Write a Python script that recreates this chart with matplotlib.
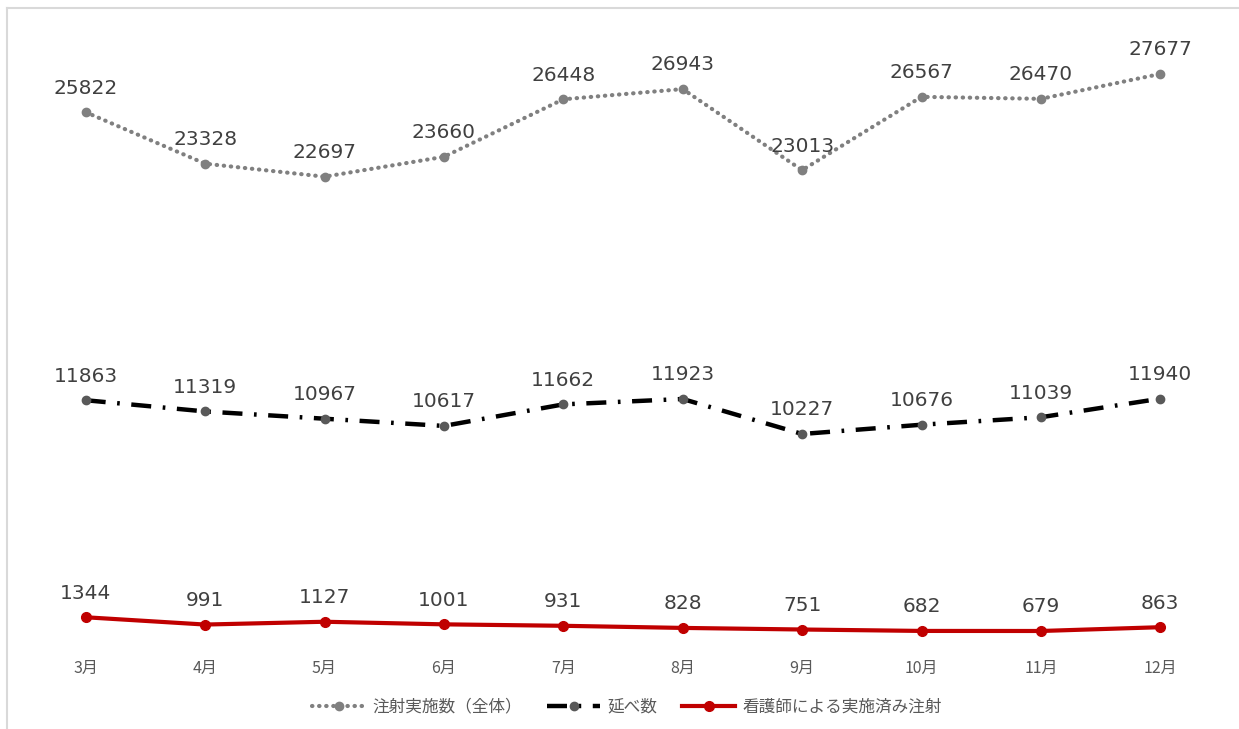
import matplotlib.pyplot as plt
import numpy as np
from matplotlib.lines import Line2D

plt.rcParams['font.family'] = ['Noto Sans CJK JP', 'DejaVu Sans']

months = ['3月', '4月', '5月', '6月', '7月', '8月', '9月', '10月', '11月', '12月']
injections_total = [25822, 23328, 22697, 23660, 26448, 26943, 23013, 26567, 26470, 27677]
cumulative_count = [11863, 11319, 10967, 10617, 11662, 11923, 10227, 10676, 11039, 11940]
by_nurses = [1344, 991, 1127, 1001, 931, 828, 751, 682, 679, 863]

x = np.arange(len(months))

fig = plt.figure(figsize=(12.39, 7.29), dpi=100)
ax = fig.add_axes([26 / 1239, 1 - 645 / 729, (1220 - 26) / 1239, (645 - 26) / 729])

# chart frame (top and left edges only)
fig.add_artist(Line2D([7 / 1239, 1], [1 - 8 / 729, 1 - 8 / 729], color='#d9d9d9', lw=1.5))
fig.add_artist(Line2D([7 / 1239, 7 / 1239], [0, 1 - 8 / 729], color='#d9d9d9', lw=1.5))

ax.plot(x, injections_total, color='#808080', lw=3, linestyle=(0, (0.1, 1.6)),
        dash_capstyle='round', marker='o', ms=6, mfc='#808080', mec='#808080',
        label='注射実施数（全体）')
ax.plot(x, cumulative_count, color='black', lw=3.2, linestyle=(0, (4.5, 2.6, 0.6, 2.6)),
        marker='o', ms=6, mfc='#595959', mec='#595959', label='延べ数')
ax.plot(x, by_nurses, color='#c00000', lw=3, marker='o', ms=7,
        mfc='#c00000', mec='#c00000', label='看護師による実施済み注射')

for series in (injections_total, cumulative_count, by_nurses):
    for xi, v in zip(x, series):
        ax.annotate(str(v), (xi, v), xytext=(0, 10.5), textcoords='offset points',
                    ha='center', va='bottom', fontsize=14.5, color='#404040',
                    family='DejaVu Sans')

ax.set_xlim(-0.5, len(months) - 0.5)
ax.set_ylim(0, 30000)
ax.set_xticks(x)
ax.set_xticklabels(months, fontsize=11.5, color='#595959')
ax.tick_params(axis='x', length=0, pad=11)
ax.set_yticks([])
for s in ax.spines.values():
    s.set_visible(False)

fig.legend(loc='center', bbox_to_anchor=(627 / 1239, 1 - 707 / 729), ncol=3,
           frameon=False, fontsize=12, handlelength=3.2, handletextpad=0.4,
           columnspacing=1.5, labelcolor='#595959')

fig.savefig('out.png', dpi=100)
